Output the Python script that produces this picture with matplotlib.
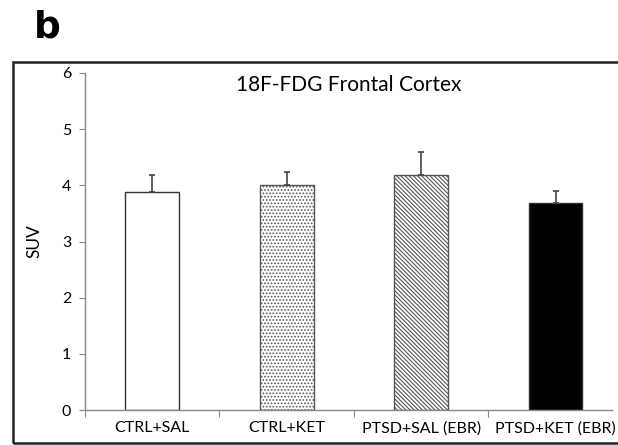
import matplotlib
matplotlib.use("Agg")
import matplotlib.pyplot as plt
from matplotlib.patches import Rectangle

groups = ["CTRL+SAL", "CTRL+KET", "PTSD+SAL (EBR)", "PTSD+KET (EBR)"]
suv = [3.88, 4.00, 4.19, 3.69]
sem = [0.30, 0.24, 0.40, 0.21]
title = "18F-FDG Frontal Cortex"

W, H = 618, 445
plt.rcParams["font.family"] = ["Lato", "DejaVu Sans"]
plt.rcParams["hatch.linewidth"] = 0.8
fig = plt.figure(figsize=(W / 100, H / 100), dpi=100)

# axes box in pixels: x 85..612, y 73..410
left, right, top, bottom = 85, 612, 73, 410
ax = fig.add_axes([left / W, 1 - bottom / H, (right - left) / W, (bottom - top) / H])

x = range(len(groups))
fills = ["white", "white", "white", "black"]
hatches = [None, ".....", "\\\\\\\\\\\\\\\\", None]
bars = ax.bar(x, suv, width=0.4, color=fills, edgecolor="#333333", linewidth=1.0,
              zorder=2)
for b, h in zip(bars, hatches):
    if h:
        b.set_hatch(h)
        b.set_edgecolor("#555555")
ax.errorbar(x, suv, yerr=[[0] * len(sem), sem], fmt="none", ecolor="#444444",
            elinewidth=1.2, capsize=2.5, capthick=1.2, zorder=3)

ax.set_xlim(-0.5, 3.42)
ax.set_ylim(0, 6)
ax.set_yticks(range(0, 7))
ax.tick_params(axis="y", direction="out", length=4, color="#888888",
               labelsize=11.5, pad=6)
ax.set_xticks([0.5, 1.5, 2.5, -0.5])
ax.set_xticklabels([])
ax.set_xticks(list(x), minor=True)
ax.set_xticklabels(groups, minor=True, fontsize=11.5)
ax.tick_params(axis="x", which="major", direction="out", length=5, color="#888888")
ax.tick_params(axis="x", which="minor", length=0, pad=8)

for s in ["top", "right"]:
    ax.spines[s].set_visible(False)
for s in ["left", "bottom"]:
    ax.spines[s].set_color("#888888")
    ax.spines[s].set_linewidth(1.0)

ax.set_ylabel("SUV", fontsize=12.5, labelpad=14)
ax.text(0.5, 0.965, title, transform=ax.transAxes, ha="center", va="center",
        fontsize=15)

# outer frame around the panel
fig.patches.append(Rectangle((13 / W, 1 - 443 / H), (W + 20 - 13) / W, (443 - 62) / H,
                             transform=fig.transFigure, fill=False,
                             edgecolor="#222222", linewidth=1.8, clip_on=False))
fig.text(34 / W, 1 - 28 / H, "b", fontsize=27, fontweight="bold",
         ha="left", va="center", family=["DejaVu Sans"])

fig.savefig("out.png", dpi=100)
